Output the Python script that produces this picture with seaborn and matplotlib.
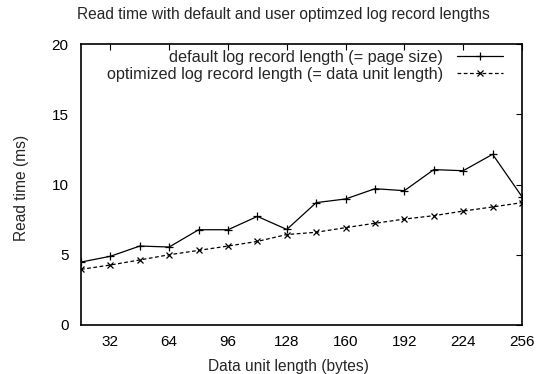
import matplotlib
matplotlib.use("Agg")
import matplotlib.pyplot as plt
import seaborn as sns
import pandas as pd

sizes = [16, 32, 48, 64, 80, 96, 112, 128, 144, 160, 176, 192, 208, 224, 240, 256]
default_time = [4.48, 4.89, 5.62, 5.55, 6.78, 6.78, 7.73, 6.80, 8.71, 8.97, 9.70, 9.56, 11.06, 10.98, 12.15, 9.13]
optimized_time = [3.96, 4.27, 4.63, 5.00, 5.31, 5.62, 5.95, 6.44, 6.60, 6.93, 7.24, 7.54, 7.78, 8.11, 8.40, 8.71]
xticks = [32, 64, 96, 128, 160, 192, 224, 256]
yticks = [0, 5, 10, 15, 20]
label_default = "default log record length (= page size)"
label_opt = "optimized log record length (= data unit length)"

sns.set_theme(style="white")
plt.rcParams['font.family'] = ['Liberation Sans', 'DejaVu Sans']

fig = plt.figure(figsize=(5.48, 3.74), dpi=100)
ax = fig.add_axes([81/548, 49/374, 441/548, 281/374])

df = pd.DataFrame({"size": sizes, "default": default_time, "opt": optimized_time})
sns.lineplot(data=df, x="size", y="default", ax=ax, color="black", lw=0.9,
             marker="+", markersize=6, markeredgewidth=0.9,
             markeredgecolor="black", markerfacecolor="black", label=label_default)
sns.lineplot(data=df, x="size", y="opt", ax=ax, color="black", lw=0.9,
             marker="x", markersize=4.5, markeredgewidth=0.9,
             markeredgecolor="black", markerfacecolor="black", label=label_opt)
ax.lines[1].set_dashes([3, 2])

ax.set_xlim(16, 256)
ax.set_ylim(0, 20)
ax.set_xticks(xticks)
ax.set_yticks(yticks)
ax.set_xlabel("")
ax.set_ylabel("")
for s in ax.spines.values():
    s.set_color("black")
    s.set_linewidth(1.2)
ax.tick_params(direction="in", top=True, right=True, length=4.5, width=0.8,
               labelsize=11, colors="black")
ax.tick_params(axis="x", pad=7)
ax.tick_params(axis="y", pad=9)

leg = ax.legend(loc="upper right", bbox_to_anchor=(0.957, 0.979), frameon=False,
                markerfirst=False, fontsize=11.7,
                handlelength=2.85, borderaxespad=0.0, borderpad=0.0, labelspacing=0.1,
                handletextpad=0.85)

fig.text(283/548, 1 - 14/374, "Read time with default and user optimzed log record lengths",
         ha="center", va="center", fontsize=11.2)
fig.text(288/548, 1 - 366/374, "Data unit length (bytes)", ha="center", va="center", fontsize=11.2)
fig.text(22/548, 1 - 188/374, "Read time (ms)", ha="center", va="center", rotation=90, fontsize=11.2)

fig.savefig("out.png", dpi=100)
